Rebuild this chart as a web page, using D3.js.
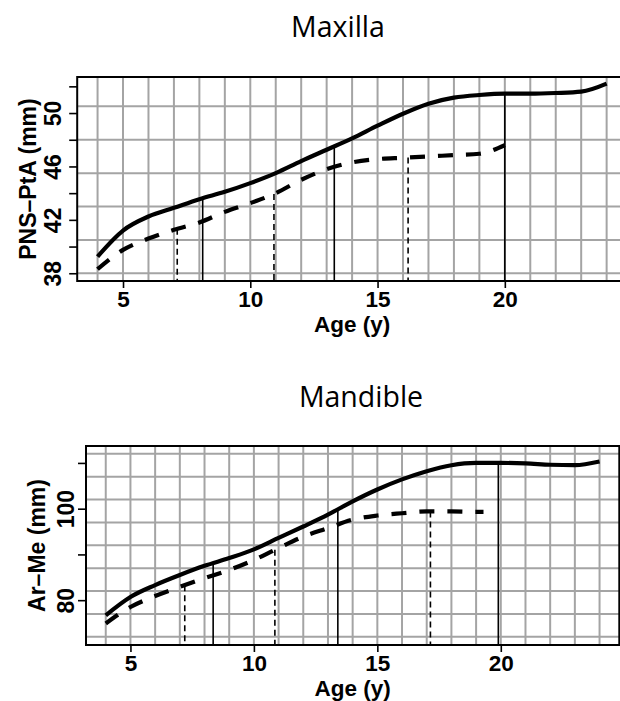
<!DOCTYPE html>
<html>
<head>
<meta charset="utf-8">
<script src="https://cdn.jsdelivr.net/npm/d3@7"></script>
<style>
  body { margin: 0; background: #fff; }
  svg { display: block; }
</style>
</head>
<body>
<script>
// x axis: age in years
const ages = [4, 5, 6, 7, 8, 9, 10, 11, 12, 13, 14, 15, 16, 17, 18, 19, 20, 21, 22, 23, 24];
const ageTicks = [5, 10, 15, 20];

// Maxilla: PNS-PtA (mm)
const maxSolid = [39.25, 41.2, 42.25, 42.9, 43.55, 44.1, 44.75, 45.5, 46.4, 47.25, 48.1,
                  49.05, 49.95, 50.7, 51.15, 51.35, 51.45, 51.45, 51.5, 51.6, 52.2];
const maxDashAges = [4, 5, 6, 7, 8, 9, 10, 11, 12, 13, 14, 15, 16, 17, 18, 19, 20];
const maxDash = [38.3, 39.75, 40.6, 41.25, 41.8, 42.6, 43.25, 44.0, 45.0, 45.8, 46.3,
                 46.55, 46.65, 46.75, 46.85, 46.95, 47.6];
const maxSolidMarks = [8.13, 13.3, 20];
const maxDashMarks = [7.13, 10.93, 16.2];
const maxYTicks = [38, 40, 42, 44, 46, 48, 50, 52];
const maxYLabels = [38, 42, 46, 50];
const maxGridY = [38, 40.5, 43, 45.5, 48, 50.5];

// Mandible: Ar-Me (mm)
const manSolid = [76.7, 80.7, 83.3, 85.5, 87.5, 89.2, 91.1, 93.6, 96.1, 98.7, 101.6,
                  104.2, 106.4, 108.2, 109.5, 110.0, 110.0, 109.9, 109.6, 109.5, 110.3];
const manDashAges = [4, 5, 6, 7, 8, 9, 10, 11, 12, 13, 14, 15, 16, 17, 18, 19, 19.3];
const manDash = [74.9, 78.5, 80.9, 82.9, 84.8, 86.6, 88.8, 91.4, 93.9, 95.75, 97.6,
                 98.5, 99.0, 99.4, 99.4, 99.3, 99.3];
const manSolidMarks = [8.35, 13.4, 19.9];
const manDashMarks = [7.2, 10.85, 17.15];
const manYTicks = [80, 90, 100, 110];
const manYLabels = [80, 100];
const manGridY = [72, 77, 82, 87, 92, 97, 102, 107, 112];

const W = 620, H = 701;
const axisFont = "'Liberation Sans', Arial, Helvetica, sans-serif";

const svg = d3.select("body").append("svg")
  .attr("width", W)
  .attr("height", H);

const panels = [
  {title: "Maxilla", titleX: 338, titleY: 37, yLabel: "PNS\u2013PtA (mm)",
   left: 77.2, right: 627, top: 77, bottom: 281, yDomain: [37.42, 52.7],
   solid: maxSolid, dashAges: maxDashAges, dash: maxDash,
   solidMarks: maxSolidMarks, dashMarks: maxDashMarks,
   yTicks: maxYTicks, yLabels: maxYLabels, gridY: maxGridY, tickGap: 16},
  {title: "Mandible", titleX: 361, titleY: 407, yLabel: "Ar\u2013Me (mm)",
   left: 86, right: 619.3, top: 446, bottom: 645, yDomain: [70.2, 113.7],
   solid: manSolid, dashAges: manDashAges, dash: manDash,
   solidMarks: manSolidMarks, dashMarks: manDashMarks,
   yTicks: manYTicks, yLabels: manYLabels, gridY: manGridY, tickGap: 12}
];

//find the y pixel of a path at a given x pixel (x grows along the path)
function yOnPath(node, px) {
  let lo = 0, hi = node.getTotalLength();
  for (let i = 0; i < 40; i++) {
    const mid = (lo + hi) / 2;
    if (node.getPointAtLength(mid).x < px) lo = mid; else hi = mid;
  }
  return node.getPointAtLength(lo).y;
}

panels.forEach(p => {
  const g = svg.append("g");
  const x = d3.scaleLinear().domain([3.2, 24.8]).range([p.left, p.right]);
  const y = d3.scaleLinear().domain(p.yDomain).range([p.bottom, p.top]);

  //title
  g.append("text")
    .attr("x", p.titleX)
    .attr("y", p.titleY)
    .attr("text-anchor", "middle")
    .attr("font-family", "'Open Sans', 'Noto Sans', sans-serif")
    .attr("font-size", 28.5)
    .attr("fill", "#000")
    .text(p.title);

  //grid
  g.append("g").selectAll("line")
    .data(ages)
    .join("line")
      .attr("x1", d => x(d)).attr("x2", d => x(d))
      .attr("y1", p.top).attr("y2", p.bottom)
      .attr("stroke", "#a4a4a4")
      .attr("stroke-width", 2);
  g.append("g").selectAll("line")
    .data(p.gridY)
    .join("line")
      .attr("x1", p.left).attr("x2", p.right)
      .attr("y1", d => y(d)).attr("y2", d => y(d))
      .attr("stroke", "#a4a4a4")
      .attr("stroke-width", 2);

  const markG = g.append("g");

  //curves
  const line = d3.line()
    .x(d => x(d[0]))
    .y(d => y(d[1]))
    .curve(d3.curveMonotoneX);

  const solidPath = g.append("path")
    .datum(d3.zip(ages, p.solid))
    .attr("d", line)
    .attr("fill", "none")
    .attr("stroke", "#000")
    .attr("stroke-width", 4.2);

  const dashPath = g.append("path")
    .datum(d3.zip(p.dashAges, p.dash))
    .attr("d", line)
    .attr("fill", "none")
    .attr("stroke", "#000")
    .attr("stroke-width", 4.2)
    .attr("stroke-dasharray", "15,13");

  //drop lines from the curves to the axis
  markG.selectAll(".solidmark")
    .data(p.solidMarks)
    .join("line")
      .attr("class", "solidmark")
      .attr("x1", d => x(d)).attr("x2", d => x(d))
      .attr("y1", d => yOnPath(solidPath.node(), x(d)))
      .attr("y2", p.bottom)
      .attr("stroke", "#000")
      .attr("stroke-width", 1.6);
  markG.selectAll(".dashmark")
    .data(p.dashMarks)
    .join("line")
      .attr("class", "dashmark")
      .attr("x1", d => x(d)).attr("x2", d => x(d))
      .attr("y1", d => yOnPath(dashPath.node(), x(d)))
      .attr("y2", p.bottom)
      .attr("stroke", "#000")
      .attr("stroke-width", 1.6)
      .attr("stroke-dasharray", "6,4");

  //box
  g.append("rect")
    .attr("x", p.left).attr("y", p.top)
    .attr("width", p.right - p.left)
    .attr("height", p.bottom - p.top)
    .attr("fill", "none")
    .attr("stroke", "#000")
    .attr("stroke-width", 2);

  //y axis
  const yAxis = g.append("g")
    .attr("transform", "translate(" + p.left + ",0)")
    .call(d3.axisLeft(y).tickValues(p.yTicks).tickSize(8)
      .tickFormat(d => p.yLabels.includes(d) ? d : ""));
  yAxis.select(".domain").remove();
  yAxis.attr("font-family", axisFont).attr("font-size", 23).attr("font-weight", "bold");
  yAxis.selectAll(".tick line").attr("stroke", "#000").attr("stroke-width", 1.6);
  yAxis.selectAll(".tick text")
    .attr("transform", "rotate(-90)")
    .attr("x", 0)
    .attr("y", -p.tickGap)
    .attr("dy", null)
    .attr("text-anchor", "middle")
    .attr("fill", "#000");

  //x axis
  const xAxis = g.append("g")
    .attr("transform", "translate(0," + p.bottom + ")")
    .call(d3.axisBottom(x).tickValues(ageTicks).tickSize(7).tickPadding(3));
  xAxis.select(".domain").remove();
  xAxis.attr("font-family", axisFont).attr("font-size", 22.5).attr("font-weight", "bold");
  xAxis.selectAll(".tick line").attr("stroke", "#000").attr("stroke-width", 1.6);
  xAxis.selectAll(".tick text").attr("fill", "#000");

  //axis titles
  g.append("text")
    .attr("x", (p.left + p.right) / 2)
    .attr("y", p.bottom + 51)
    .attr("text-anchor", "middle")
    .attr("font-family", axisFont)
    .attr("font-size", 22.5)
    .attr("font-weight", "bold")
    .text("Age (y)");

  g.append("text")
    .attr("transform", "translate(" + (p.left - 41) + "," + ((p.top + p.bottom) / 2) + ") rotate(-90)")
    .attr("text-anchor", "middle")
    .attr("font-family", axisFont)
    .attr("font-size", 23)
    .attr("font-weight", "bold")
    .text(p.yLabel);
});
</script>
</body>
</html>
